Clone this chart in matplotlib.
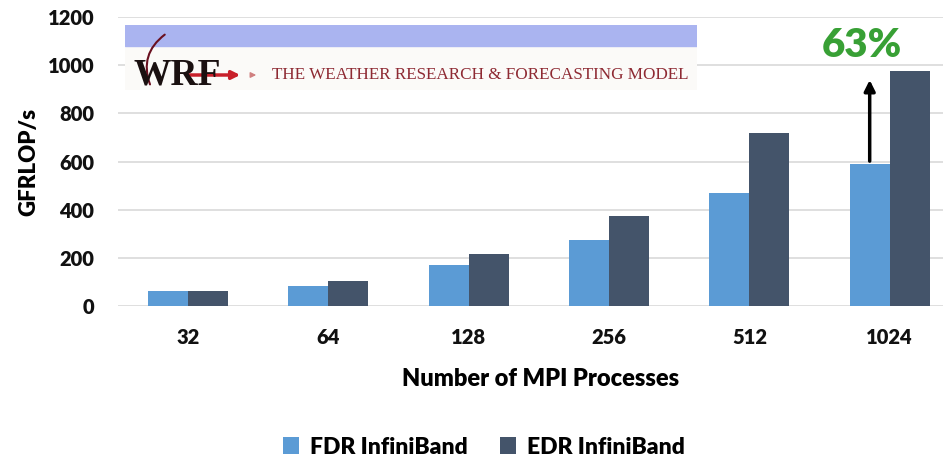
import matplotlib.pyplot as plt
import numpy as np
from matplotlib.patches import Rectangle, FancyArrowPatch

# data
procs = ['32', '64', '128', '256', '512', '1024']
fdr = [62, 84, 170, 274, 469, 590]
edr = [62, 104, 216, 374, 718, 976]
yticks = [0, 200, 400, 600, 800, 1000, 1200]

FDR_COLOR = '#5b9bd5'
EDR_COLOR = '#44546a'
FONT = ['Lato', 'DejaVu Sans']

plt.rcParams['font.family'] = FONT

fig = plt.figure(figsize=(9.43, 4.63), dpi=100)
W, H = 943, 463
ax = fig.add_axes([118 / W, (H - 306) / H, 825 / W, 289 / H])

x = np.arange(len(procs))
bw = 0.285
ax.bar(x - bw / 2, fdr, bw, color=FDR_COLOR, label='FDR InfiniBand', zorder=3)
ax.bar(x + bw / 2, edr, bw, color=EDR_COLOR, label='EDR InfiniBand', zorder=3)

ax.set_xlim(-0.5, 5.38)
ax.set_ylim(0, 1200)
ax.set_yticks(yticks)
ax.set_xticks(x)
ax.set_xticklabels(procs)
ax.tick_params(length=0, labelsize=14.5, colors='#111111')
ax.tick_params(axis='x', pad=16)
ax.tick_params(axis='y', pad=17)
for lbl in ax.get_xticklabels() + ax.get_yticklabels():
    lbl.set_fontweight('heavy')
ax.grid(axis='y', color='#d9d9d9', linewidth=1.2, zorder=0)
for s in ax.spines.values():
    s.set_visible(False)

ax.set_xlabel('Number of MPI Processes', fontsize=17, fontweight='heavy')
ax.xaxis.set_label_coords(0.512, -0.215)
ax.set_ylabel('GFRLOP/s', fontsize=16, fontweight='heavy', labelpad=6)

# 63% improvement arrow on the 1024 group
ax.annotate('', xy=(5 - bw / 2, 950), xytext=(5 - bw / 2, fdr[-1]),
            arrowprops=dict(arrowstyle='-|>', color='black', lw=2.5, mutation_scale=16),
            zorder=5)
ax.text(4.80, 1005, '63%', color='#38a035', fontsize=29, fontweight='heavy',
        ha='center', va='bottom')

fig.legend(loc='center', bbox_to_anchor=(484 / W, 1 - 447 / H), ncol=2, frameon=False,
           prop={'size': 16.5, 'weight': 'heavy'}, handlelength=0.7, handleheight=0.7,
           columnspacing=1.4, handletextpad=0.5)

# WRF logo banner
logo = fig.add_axes([125 / W, (H - 90) / H, 572 / W, 65 / H])
logo.set_xlim(0, 572)
logo.set_ylim(65, 0)
logo.axis('off')
logo.add_patch(Rectangle((0, 0), 572, 65, color='#fbfaf8'))
logo.add_patch(Rectangle((0, 0), 572, 21, color='#aab4f0'))
logo.text(8, 50, 'WRF', family=['Liberation Serif'], fontsize=27, fontweight='bold',
          color='#1a1010', va='center', ha='left')
logo.add_patch(FancyArrowPatch((60, 50), (118, 50), arrowstyle='-|>', color='#c8202a',
                               lw=2.5, mutation_scale=12))
logo.add_patch(FancyArrowPatch((124, 50), (134, 50), arrowstyle='-|>', color='#d08080',
                               lw=1, mutation_scale=8))
logo.add_patch(FancyArrowPatch((26, 62), (42, 8), connectionstyle='arc3,rad=-0.4',
                               arrowstyle='-', color='#6a1020', lw=1.5))
logo.text(147, 50, 'THE WEATHER RESEARCH & FORECASTING MODEL', family=['Liberation Serif'],
          fontsize=12.3, color='#8e2a33', va='center', ha='left')

fig.savefig('out.png', dpi=100)
